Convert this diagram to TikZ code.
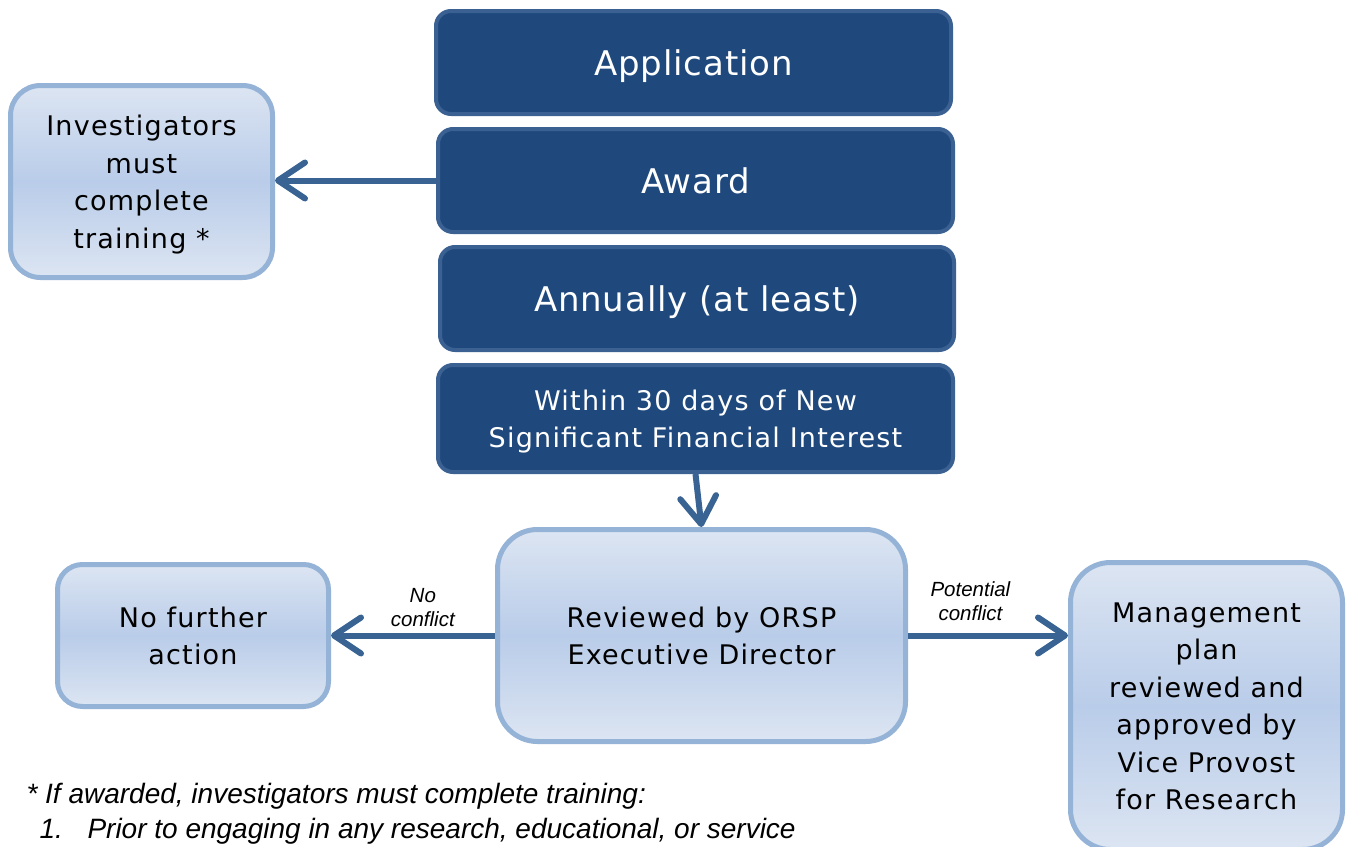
\documentclass[tikz,border=0pt]{standalone}
\usepackage{fontspec}
\setmainfont{DejaVu Sans}
\newfontfamily\stepfont[LetterSpace=2.5]{DejaVu Sans}
\newfontfamily\boxfont[LetterSpace=4.5]{DejaVu Sans}
\newfontfamily\notefont{Liberation Sans}
\usetikzlibrary{arrows.meta,positioning}
\definecolor{stepfill}{HTML}{1F497D}
\definecolor{stepline}{HTML}{3B6193}
\definecolor{boxtop}{HTML}{DCE5F2}
\definecolor{boxmid}{HTML}{B9CCE9}
\definecolor{boxline}{HTML}{95B3D7}
\definecolor{flowblue}{HTML}{386393}

\begin{document}
\begin{tikzpicture}[x=1pt, y=-1pt,
    stepbox/.style={draw=stepline, fill=stepfill, line width=4pt, rounded corners=15pt,
        text=white, align=center, text depth=0pt, font=\stepfont\fontsize{34}{40}\selectfont},
    infobox/.style={draw=boxline, line width=5pt, top color=boxtop, bottom color=boxtop,
        middle color=boxmid, align=center, text depth=0pt, font=\boxfont\fontsize{27}{37.5}\selectfont},
    flow/.style={draw=flowblue, line width=6pt, -{Straight Barb[length=27pt,width=36pt,round]}},
    tag/.style={font=\notefont\itshape\fontsize{20.5}{24}\selectfont, align=center, inner sep=1pt}]
                        \path[use as bounding box, fill=white] (0, 0) rectangle (1346, 846);
                        \clip (0, 0) rectangle (1346, 846);
                        \node[stepbox, minimum width=515, minimum height=103] (app) at (693.5, 62.5) {Application};
                        \node[stepbox, minimum width=515, minimum height=103] (award) at (695.5, 180.5) {Award};
                        \node[stepbox, minimum width=514, minimum height=103] (annual) at (697, 298.5) {Annually (at least)};
                        \node[stepbox, minimum width=515, minimum height=107, font=\boxfont\fontsize{27}{37.5}\selectfont] (within) at (695.5, 418.5) {Within 30 days of New\\Significant Financial Interest};
                        \node[infobox, rounded corners=30pt, minimum width=262, minimum height=192] (invest) at (141.5, 181.5) {Investigators\\must\\complete\\training *};
                        \node[infobox, rounded corners=40pt, minimum width=408, minimum height=212] (review) at (701.5, 635.5) {Reviewed by ORSP\\Executive Director};
                        \node[infobox, rounded corners=25pt, minimum width=271, minimum height=142] (nofurther) at (193, 635.5) {No further\\action};
                        \node[infobox, rounded corners=40pt, minimum width=272, minimum height=287] (manage) at (1206.5, 706) {Management\\plan\\reviewed and\\approved by\\Vice Provost\\for Research};
                        \draw[flow] (award.west) -- (invest.east |- award.west);
                        \draw[flow] (within.south) -- (review.north);
                        \draw[flow] (review.west) -- node[tag, pos=0.44, above=5pt] {No\\conflict} (nofurther.east);
                        \draw[flow] (review.east) -- node[tag, pos=0.39, above=11pt] {Potential\\conflict} (manage.west |- review.east);
                        \node[anchor=base west, font=\notefont\itshape\fontsize{28}{34}\selectfont] (note) at (23, 803) {* If awarded, investigators must complete training:};
                        \node[anchor=base west, font=\notefont\itshape\fontsize{28}{34}\selectfont] (noteone) at (36, 838) {\makebox[48pt][l]{1.}Prior to engaging in any research, educational, or service};
                    \end{tikzpicture}
\end{document}
